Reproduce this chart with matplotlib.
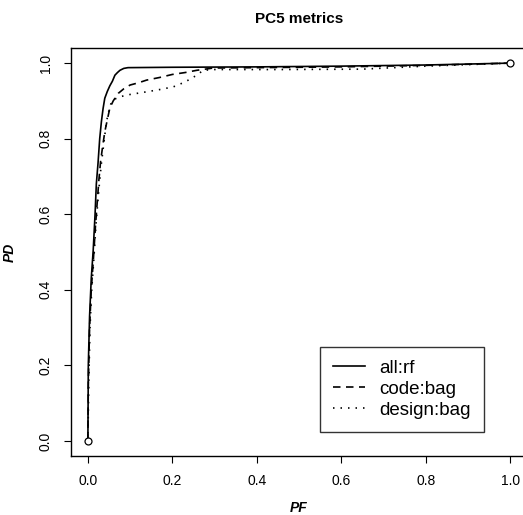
import matplotlib
matplotlib.use("Agg")
import matplotlib.pyplot as plt

plt.rcParams["font.family"] = ["Liberation Sans", "DejaVu Sans"]

# Data #
rf_pf = [0, 0.001, 0.004, 0.008, 0.0126, 0.017, 0.020, 0.024, 0.028, 0.032, 0.036,
         0.040, 0.046, 0.052, 0.058, 0.064, 0.070, 0.076, 0.085, 0.095, 0.2, 0.4,
         0.6, 0.8, 1.0]
rf_pd = [0, 0.20, 0.33, 0.43, 0.505, 0.60, 0.68, 0.735, 0.80, 0.845, 0.88,
         0.907, 0.925, 0.94, 0.952, 0.968, 0.975, 0.981, 0.986, 0.988, 0.989, 0.990,
         0.992, 0.995, 1.0]

code_pf = [0, 0.001, 0.004, 0.008, 0.013, 0.018, 0.022, 0.026, 0.030, 0.035, 0.040,
           0.046, 0.052, 0.060, 0.072, 0.085, 0.10, 0.12, 0.139, 0.17, 0.20, 0.23,
           0.258, 0.297, 0.4, 0.6, 0.8, 1.0]
code_pd = [0, 0.15, 0.30, 0.40, 0.48, 0.57, 0.63, 0.69, 0.739, 0.78, 0.818,
           0.85, 0.881, 0.90, 0.92, 0.932, 0.942, 0.948, 0.955, 0.962, 0.97, 0.975,
           0.981, 0.987, 0.988, 0.990, 0.994, 1.0]

design_pf = [0, 0.002, 0.005, 0.009, 0.014, 0.019, 0.024, 0.028, 0.032, 0.038, 0.044,
             0.050, 0.056, 0.066, 0.076, 0.10, 0.139, 0.17, 0.202, 0.23, 0.258, 0.273,
             0.30, 0.45, 0.65, 0.8, 1.0]
design_pd = [0, 0.15, 0.30, 0.40, 0.48, 0.57, 0.64, 0.69, 0.735, 0.79, 0.845,
             0.875, 0.898, 0.906, 0.911, 0.917, 0.924, 0.930, 0.937, 0.95, 0.968, 0.981,
             0.983, 0.983, 0.984, 0.992, 1.0]

end_pf = [0, 1]
end_pd = [0, 1]

ticks = [0.0, 0.2, 0.4, 0.6, 0.8, 1.0]
tick_labels = ["0.0", "0.2", "0.4", "0.6", "0.8", "1.0"]


# Plotting #
fig = plt.figure(figsize=(5.23, 5.15), dpi=100)
ax = fig.add_axes([71 / 523, 59 / 515, 456 / 523, 408 / 515])

ax.plot(rf_pf, rf_pd, color="black", lw=1.2, label="all:rf")
ax.plot(code_pf, code_pd, color="black", lw=1.2, ls=(0, (4.5, 3.3)), label="code:bag")
ax.plot(design_pf, design_pd, color="black", lw=1.2, ls=(0, (0.9, 3.6)), label="design:bag")
ax.plot(end_pf, end_pd, "o", ms=5, mfc="white", mec="black", mew=0.9, zorder=5)

ax.set_xlim(-0.04, 1.04)
ax.set_ylim(-0.04, 1.04)
ax.set_xticks(ticks)
ax.set_xticklabels(tick_labels, fontsize=10)
ax.set_yticks(ticks)
ax.set_yticklabels(tick_labels, fontsize=10, rotation=90, va="center")
ax.tick_params(direction="out", length=5, width=0.8, pad=8)
for s in ax.spines.values():
    s.set_linewidth(1.0)

ax.set_xlabel("PF", fontsize=10, fontweight="bold", style="italic", labelpad=9)
ax.set_ylabel("PD", fontsize=10, fontweight="bold", style="italic", labelpad=16)
ax.set_title("PC5 metrics", fontsize=11, fontweight="bold", pad=18)

leg = ax.legend(loc="lower left", bbox_to_anchor=(0.546, 0.059), fontsize=13.5,
                frameon=True, fancybox=False, edgecolor="black", handlelength=1.7,
                handletextpad=0.75, borderpad=0.7, labelspacing=0.2, borderaxespad=0)
leg.get_frame().set_linewidth(1.0)

fig.savefig("out.png", dpi=100)
